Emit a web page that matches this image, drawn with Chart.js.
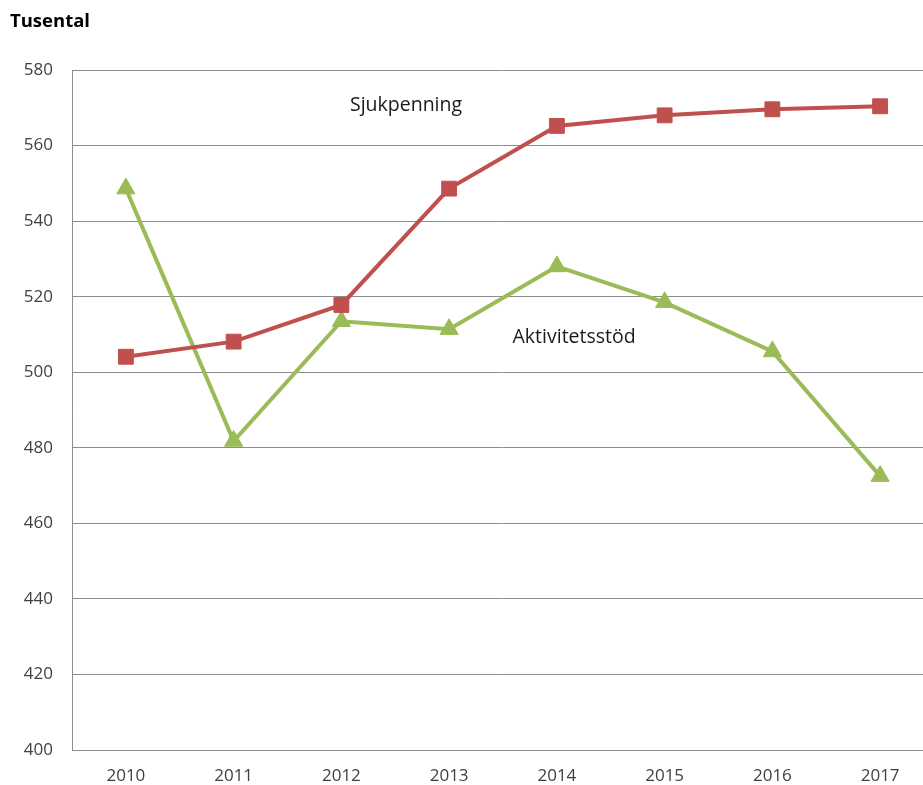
<!DOCTYPE html>
<html lang="sv">
<head>
<meta charset="utf-8">
<title>Sjukpenning och aktivitetsstöd</title>
<script src="https://cdn.jsdelivr.net/npm/chart.js@4/dist/chart.umd.min.js"></script>
<style>
  html, body { margin: 0; padding: 0; background: #fff; overflow: hidden; }
  /* the plot runs a little past the right edge, so clip it here */
  #wrap { width: 923px; height: 785px; overflow: hidden; position: relative; }
  #chart { position: absolute; left: 0; top: 0; }
</style>
</head>
<body>
<div id="wrap"><canvas id="chart" width="935" height="785"></canvas></div>
<script>
// Antal personer, tusental
const years = ['2010', '2011', '2012', '2013', '2014', '2015', '2016', '2017'];
const sjukpenning = [504.1, 508.1, 517.8, 548.6, 565.2, 568.0, 569.6, 570.4];
const aktivitetsstod = [548.6, 481.8, 513.5, 511.4, 528.0, 518.5, 505.5, 472.5];
const yMin = 400;
const yMax = 580;
const yStep = 20;

const FONT = '"Open Sans", "Noto Sans", sans-serif';
const RED = '#C0504D';
const GREEN = '#9BBB59';
const GRID = '#8c8c8c';

// Series names written next to the lines, positioned in data units
const seriesLabels = [
  { text: 'Sjukpenning', x: 2.6, y: 570.7 },
  { text: 'Aktivitetsstöd', x: 4.16, y: 509.1 },
];

const textPlugin = {
  id: 'textPlugin',
  afterDraw(chart) {
    const ctx = chart.ctx;
    const xs = chart.scales.x;
    const ys = chart.scales.y;
    ctx.save();
    ctx.fillStyle = '#000';
    ctx.font = 'bold 18.5px ' + FONT;
    ctx.textAlign = 'left';
    ctx.textBaseline = 'middle';
    ctx.fillText('Tusental', 10, 22);

    ctx.fillStyle = '#1a1a1a';
    ctx.font = '19.5px ' + FONT;
    ctx.textAlign = 'center';
    seriesLabels.forEach(l => {
      ctx.fillText(l.text, xs.getPixelForValue(l.x), ys.getPixelForValue(l.y));
    });
    ctx.restore();
  }
};

new Chart(document.getElementById('chart'), {
  type: 'line',
  data: {
    labels: years,
    datasets: [
      {
        label: 'Sjukpenning',
        data: sjukpenning,
        borderColor: RED,
        backgroundColor: RED,
        borderWidth: 4,
        pointStyle: 'rect',
        pointRadius: 10.5,
        pointBorderWidth: 1,
        pointBackgroundColor: RED,
        pointBorderColor: RED,
        tension: 0,
      },
      {
        label: 'Aktivitetsstöd',
        data: aktivitetsstod,
        borderColor: GREEN,
        backgroundColor: GREEN,
        borderWidth: 4,
        pointStyle: 'triangle',
        pointRadius: 10.5,
        pointBorderWidth: 1,
        pointBackgroundColor: GREEN,
        pointBorderColor: GREEN,
        tension: 0,
      },
    ],
  },
  options: {
    responsive: false,
    animation: false,
    // big markers would otherwise push the plot edges inwards
    layout: { autoPadding: false, padding: { top: 70, right: 1, bottom: 0, left: 0 } },
    plugins: {
      legend: { display: false },
      tooltip: { enabled: false },
    },
    scales: {
      x: {
        offset: true,
        grid: { display: false, drawTicks: false },
        border: { display: true, color: GRID, width: 1 },
        ticks: {
          color: '#404040',
          font: { family: FONT, size: 17 },
          padding: 16,
          maxRotation: 0,
        },
        afterFit(scale) { scale.height = 35; },
      },
      y: {
        min: yMin,
        max: yMax,
        grid: { color: GRID, lineWidth: 1, drawTicks: false },
        border: { display: true, color: GRID, width: 1 },
        ticks: {
          stepSize: yStep,
          color: '#404040',
          font: { family: FONT, size: 17 },
          padding: 19,
        },
        afterFit(scale) { scale.width = 72; },
      },
    },
  },
  plugins: [textPlugin],
});
</script>
</body>
</html>
